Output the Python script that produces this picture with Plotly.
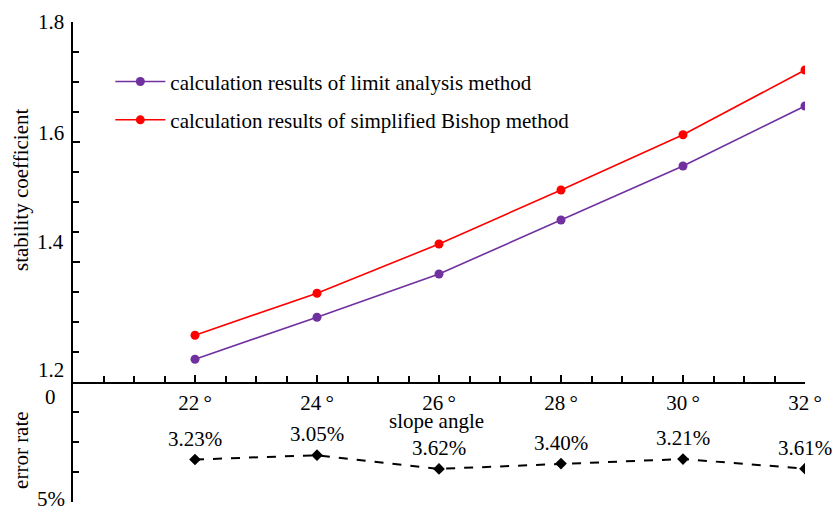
import plotly.graph_objects as go

# ---- data ----
slope_angles = [22, 24, 26, 28, 30, 32]
x_tick_labels = ["22\u2009°", "24\u2009°", "26\u2009°", "28\u2009°", "30\u2009°", "32\u2009°"]
limit_analysis = [1.238, 1.308, 1.380, 1.470, 1.560, 1.660]
simplified_bishop = [1.278, 1.348, 1.430, 1.520, 1.612, 1.720]
error_rate = [3.23, 3.05, 3.62, 3.40, 3.21, 3.61]
y_tick_values = [1.2, 1.4, 1.6, 1.8]
y_tick_labels = ["1.2", "1.4", "1.6", "1.8"]
err_tick_values = [0, 5]
err_tick_labels = ["0", "5%"]

FONT = "Liberation Serif, Times New Roman, serif"
FS = 21
PURPLE = "#7030A0"
RED = "#FF0000"

fig = go.Figure()
fig.add_trace(go.Scatter(
    x=slope_angles, y=limit_analysis, mode="lines+markers",
    name="calculation results of limit analysis method",
    line=dict(color=PURPLE, width=1.6), marker=dict(color=PURPLE, size=9),
    legendgroup="a", xaxis="x", yaxis="y"))
fig.add_trace(go.Scatter(
    x=slope_angles, y=simplified_bishop, mode="lines+markers",
    name="calculation results of simplified Bishop method",
    line=dict(color=RED, width=1.6), marker=dict(color=RED, size=9),
    legendgroup="b", xaxis="x", yaxis="y"))
fig.add_trace(go.Scatter(
    x=slope_angles, y=error_rate, mode="lines+markers",
    line=dict(color="black", width=2, dash="dash"),
    marker=dict(color="black", size=9, symbol="diamond"),
    showlegend=False, xaxis="x", yaxis="y2"))

tf = dict(family=FONT, size=FS, color="black")
annotations = []
# error labels
for xv, ev in zip(slope_angles, error_rate):
    annotations.append(dict(x=xv, y=ev, xref="x", yref="y2", text=f"{ev:.2f}%",
                            showarrow=False, yshift=21, xanchor="center", font=tf))
# y tick labels (upper)
y_label_shift = {"1.2": 12, "1.4": 20, "1.6": 9, "1.8": 0}
for v, t in zip(y_tick_values, y_tick_labels):
    annotations.append(dict(x=0, y=v, xref="paper", yref="y", text=t, showarrow=False,
                            xanchor="right", yanchor="middle", xshift=-7,
                            yshift=y_label_shift[t], font=tf))
# y tick labels (lower)
err_label_shift = {"0": (-15, -15), "5%": (-6, 3)}
for v, t in zip(err_tick_values, err_tick_labels):
    sx, sy = err_label_shift[t]
    annotations.append(dict(x=0, y=v, xref="paper", yref="y2", text=t, showarrow=False,
                            xanchor="right", yanchor="middle", xshift=sx, yshift=sy,
                            font=tf))
# axis titles
annotations.append(dict(x=0, y=1.52, xref="paper", yref="y", text="stability coefficient",
                        showarrow=False, textangle=-90, xshift=-52,
                        xanchor="center", yanchor="middle", font=tf))
annotations.append(dict(x=0, y=2.83, xref="paper", yref="y2", text="error rate",
                        showarrow=False, textangle=-90, xshift=-52,
                        xanchor="center", yanchor="middle", font=tf))
annotations.append(dict(x=26, y=1.62, xref="x", yref="y2", text="slope angle",
                        showarrow=False, xshift=-3, xanchor="center", font=tf))

fig.update_layout(
    width=832, height=504,
    margin=dict(l=65, r=35, t=14, b=10),
    paper_bgcolor="white", plot_bgcolor="white",
    font=tf,
    xaxis=dict(domain=[0, 1], range=[20, 32], anchor="y",
               tickmode="array", tickvals=slope_angles, ticktext=x_tick_labels,
               ticks="inside", ticklen=7, tickwidth=2, tickcolor="black",
               minor=dict(tickmode="linear", tick0=20, dtick=0.5, ticks="inside",
                          ticklen=6, tickwidth=2, tickcolor="black"),
               showline=True, linecolor="black", linewidth=2,
               showgrid=False, zeroline=False, ticklabelstandoff=1,
               tickfont=tf),
    yaxis=dict(domain=[0.25, 1], range=[1.2, 1.8], anchor="x",
               tickmode="linear", tick0=1.2, dtick=0.2,
               ticks="inside", ticklen=7, tickwidth=2, tickcolor="black",
               minor=dict(tickmode="linear", tick0=1.2, dtick=0.05, ticks="inside",
                          ticklen=6, tickwidth=2, tickcolor="black"),
               showticklabels=False,
               showline=True, linecolor="black", linewidth=2,
               showgrid=False, zeroline=False),
    yaxis2=dict(domain=[0, 0.25], range=[5, 0], anchor="x",
                tickmode="array", tickvals=err_tick_values,
                ticks="inside", ticklen=7, tickwidth=2, tickcolor="black",
                minor=dict(tickmode="linear", tick0=0, dtick=1.25, ticks="inside",
                           ticklen=6, tickwidth=2, tickcolor="black"),
                showticklabels=False,
                showline=True, linecolor="black", linewidth=2,
                showgrid=False, zeroline=False),
    legend=dict(x=0.051, y=0.918, xanchor="left", yanchor="top",
                bgcolor="rgba(0,0,0,0)", tracegroupgap=8, itemwidth=50,
                font=tf),
    annotations=annotations,
)

fig.write_html("out.html")
